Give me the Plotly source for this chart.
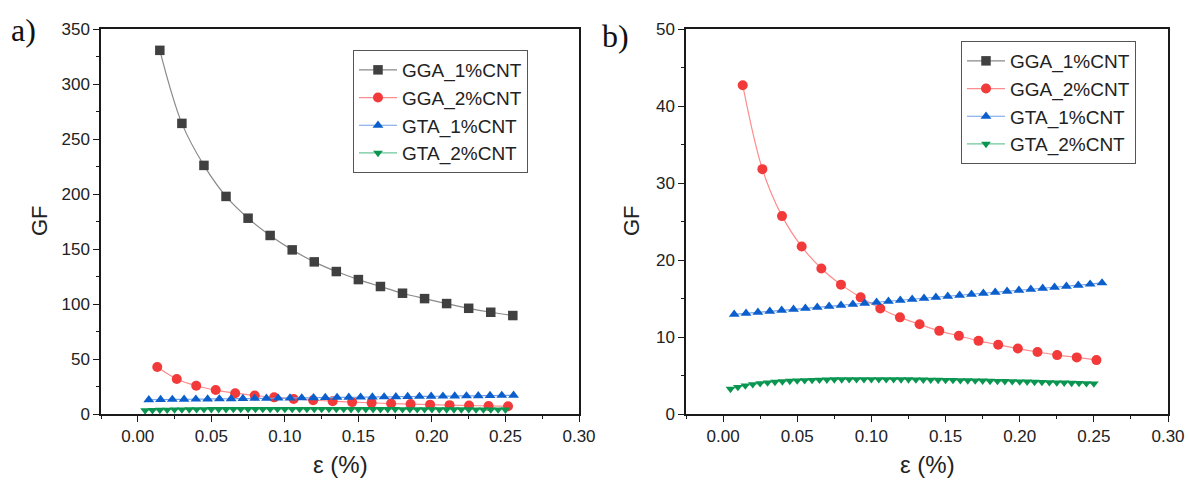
import plotly.graph_objects as go

# ---------------- data ----------------
x_gga1 = [0.015, 0.030, 0.045, 0.060, 0.075, 0.090, 0.105, 0.120, 0.135, 0.150,
          0.165, 0.180, 0.195, 0.210, 0.225, 0.240, 0.255]
y_gga1 = [330.6, 264.2, 226.0, 197.8, 178.0, 162.3, 149.2, 138.3, 129.5, 122.2,
          115.9, 109.8, 104.9, 100.4, 96.1, 92.5, 89.5]

x_gga2 = [0.01325, 0.0265, 0.03975, 0.053, 0.06625, 0.0795, 0.09275, 0.106, 0.11925, 0.1325,
          0.14575, 0.159, 0.17225, 0.1855, 0.19875, 0.212, 0.22525, 0.2385, 0.25175]
y_gga2 = [42.7, 31.8, 25.7, 21.75, 18.9, 16.8, 15.15, 13.7, 12.55, 11.65,
          10.8, 10.15, 9.5, 9.0, 8.5, 8.05, 7.65, 7.35, 7.0]

x_gta1 = [0.0075, 0.0155, 0.0235, 0.0315, 0.0395, 0.0475, 0.0555, 0.0635, 0.0715, 0.0795,
          0.0875, 0.0955, 0.1035, 0.1115, 0.1195, 0.1275, 0.1355, 0.1435, 0.1515, 0.1595,
          0.1675, 0.1755, 0.1835, 0.1915, 0.1995, 0.2075, 0.2155, 0.2235, 0.2315, 0.2395,
          0.2475, 0.2555]
y_gta1 = [12.95, 13.08, 13.21, 13.34, 13.47, 13.60, 13.73, 13.86, 13.99, 14.12,
          14.25, 14.38, 14.51, 14.64, 14.77, 14.90, 15.03, 15.16, 15.29, 15.42,
          15.55, 15.68, 15.81, 15.94, 16.07, 16.20, 16.33, 16.46, 16.59, 16.72,
          16.86, 17.02]

x_gta2 = [0.005, 0.010, 0.015, 0.020, 0.025, 0.030, 0.035, 0.040, 0.045, 0.050,
          0.055, 0.060, 0.065, 0.070, 0.075, 0.080, 0.085, 0.090, 0.095, 0.100,
          0.105, 0.110, 0.115, 0.120, 0.125, 0.130, 0.135, 0.140, 0.145, 0.150,
          0.155, 0.160, 0.165, 0.170, 0.175, 0.180, 0.185, 0.190, 0.195, 0.200,
          0.205, 0.210, 0.215, 0.220, 0.225, 0.230, 0.235, 0.240, 0.245, 0.250]
y_gta2 = [3.25, 3.50, 3.70, 3.85, 3.98, 4.08, 4.16, 4.23, 4.29, 4.34,
          4.38, 4.41, 4.44, 4.46, 4.48, 4.49, 4.50, 4.51, 4.51, 4.51,
          4.51, 4.50, 4.50, 4.49, 4.48, 4.47, 4.46, 4.44, 4.43, 4.41,
          4.40, 4.38, 4.36, 4.34, 4.32, 4.30, 4.28, 4.26, 4.24, 4.21,
          4.19, 4.17, 4.14, 4.12, 4.09, 4.07, 4.04, 4.01, 3.99, 3.96]

series_names = ["GGA_1%CNT", "GGA_2%CNT", "GTA_1%CNT", "GTA_2%CNT"]
x_ticks = [0.00, 0.05, 0.10, 0.15, 0.20, 0.25, 0.30]
x_tick_labels = ["0.00", "0.05", "0.10", "0.15", "0.20", "0.25", "0.30"]

# ---------------- styles ----------------
styles = [
    dict(symbol="square", size=9.5, mcolor="#404040", lcolor="#8a8a8a"),
    dict(symbol="circle", size=10, mcolor="#f23a3a", lcolor="#ff8c8c"),
    dict(symbol="triangle-up", size=9.5, mcolor="#0a5fcc", lcolor="#6f9fe8"),
    dict(symbol="triangle-down", size=8.5, mcolor="#0a9651", lcolor="#6cc79a"),
]
data = [(x_gga1, y_gga1), (x_gga2, y_gga2), (x_gta1, y_gta1), (x_gta2, y_gta2)]

FONT = "Liberation Sans, Arial, sans-serif"
W, H = 1189, 482
fig = go.Figure()

for panel, (xa, ya, leg) in enumerate([("x", "y", "legend"), ("x2", "y2", "legend2")]):
    for (xs, ys), name, st in zip(data, series_names, styles):
        fig.add_trace(go.Scatter(
            x=xs, y=ys, name=name, mode="lines+markers",
            xaxis=xa, yaxis=ya, legend=leg,
            line=dict(color=st["lcolor"], width=1.2, shape="spline"),
            marker=dict(symbol=st["symbol"], size=st["size"], color=st["mcolor"],
                        line=dict(width=0)),
            cliponaxis=False,
        ))

axis_common = dict(
    showline=True, linecolor="#1a1a1a", linewidth=1.5, mirror=True,
    ticks="outside", ticklen=6, tickwidth=1.3, tickcolor="#1a1a1a",
    showgrid=False, zeroline=False,
    tickfont=dict(family=FONT, size=17, color="#222222"),
    automargin=False,
)
minor_style = dict(ticks="outside", ticklen=3.5, tickwidth=1.1, tickcolor="#1a1a1a")
xaxis_common = dict(axis_common, range=[-0.025, 0.30], tickvals=x_ticks, ticktext=x_tick_labels,
                    minor=dict(minor_style, dtick=0.025, tick0=0))

legend_common = dict(xanchor="left", yanchor="top",
                     bordercolor="#555555", borderwidth=1, bgcolor="white",
                     font=dict(family=FONT, size=19, color="#222222"), tracegroupgap=0,
                     itemwidth=38)

fig.update_layout(
    width=W, height=H,
    margin=dict(l=0, r=0, t=0, b=0),
    paper_bgcolor="white", plot_bgcolor="white",
    xaxis=dict(xaxis_common, domain=[101 / W, 579 / W], anchor="y"),
    yaxis=dict(axis_common, domain=[68 / H, 453 / H], anchor="x", range=[0, 350], dtick=50,
               minor=dict(minor_style, dtick=25)),
    xaxis2=dict(xaxis_common, domain=[686 / W, 1168 / W], anchor="y2"),
    yaxis2=dict(axis_common, domain=[68 / H, 453 / H], anchor="x2", range=[0, 50], dtick=10,
                minor=dict(minor_style, dtick=5)),
    legend=dict(legend_common, x=353 / W, y=1 - 50 / H),
    legend2=dict(legend_common, x=961 / W, y=1 - 41 / H),
    showlegend=True,
)

annotations = []
for text, px, py in [("a)", 23, 30), ("b)", 615, 36)]:
    annotations.append(dict(text=text, x=px / W, y=1 - py / H, xref="paper", yref="paper",
                            showarrow=False, xanchor="center", yanchor="middle",
                            font=dict(family="Liberation Serif, Times New Roman, serif", size=32,
                                      color="#111111")))
for cx in (340, 927):
    annotations.append(dict(text="ε (%)", x=cx / W, y=1 - 464 / H, xref="paper", yref="paper",
                            showarrow=False, xanchor="center", yanchor="middle",
                            font=dict(family=FONT, size=24, color="#222222")))
for cx in (40, 632):
    annotations.append(dict(text="GF", x=cx / W, y=1 - 221 / H, xref="paper", yref="paper",
                            showarrow=False, xanchor="center", yanchor="middle", textangle=-90,
                            font=dict(family=FONT, size=22, color="#222222")))
fig.update_layout(annotations=annotations)

fig.write_html("out.html",
               config={"displayModeBar": False},
               post_script="document.body.style.margin='0';document.body.style.overflow='hidden';")
